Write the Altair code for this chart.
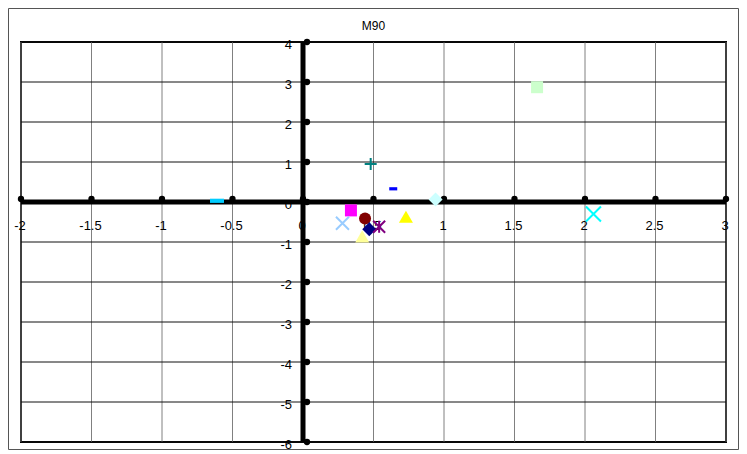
import altair as alt
import pandas as pd

# ---- axis ticks / labels ----
x_ticks = [-2, -1.5, -1, -0.5, 0, 0.5, 1, 1.5, 2, 2.5, 3]
x_tick_labels = ["-2", "-1.5", "-1", "-0.5", "0", "0.5", "1", "1.5", "2", "2.5", "3"]
y_ticks = [4, 3, 2, 1, 0, -1, -2, -3, -4, -5, -6]
y_tick_labels = ["4", "3", "2", "1", "0", "-1", "-2", "-3", "-4", "-5", "-6"]
chart_title = "M90"

# ---- data points (one marker per series) ----
pt_x = [0.48, 0.64, 0.94, 0.34, 0.28, 0.44, 0.73, 0.47, 0.54, 0.42, -0.61, 1.66, 2.06]
pt_y = [0.95, 0.33, 0.06, -0.21, -0.53, -0.41, -0.37, -0.68, -0.62, -0.86, 0.03, 2.87, -0.30]
pt_color = ["#008080", "#0000FF", "#CCFFFF", "#FF00FF", "#99CCFF", "#800000", "#FFFF00",
            "#000080", "#800080", "#FFFF99", "#00CCFF", "#CCFFCC", "#00FFFF"]
PLUS = "M-1,0L1,0M0,-1L0,1"
CROSS = "M-1,-1L1,1M-1,1L1,-1"
STAR = "M-1,-1L1,1M-1,1L1,-1M0,-1L0,1"
DASH = "M-1,-0.4L1,-0.4L1,0.4L-1,0.4Z"
DASH2 = "M-1,-0.3L1,-0.3L1,0.3L-1,0.3Z"
pt_shape = [PLUS, DASH, "diamond", "square", CROSS, "circle", "triangle-up",
            "diamond", STAR, "triangle-up", DASH2, "square", CROSS]
pt_size = [144, 64, 196, 144, 169, 144, 196, 196, 144, 196, 196, 144, 225]
pt_filled = [False, True, True, True, False, True, True,
             True, False, True, True, True, False]

pts = pd.DataFrame({"x": pt_x, "y": pt_y, "color": pt_color, "shape": pt_shape,
                    "size": pt_size, "filled": pt_filled})
xl = pd.DataFrame({"v": x_ticks, "label": x_tick_labels, "zero": 0})
yl = pd.DataFrame({"v": y_ticks, "label": y_tick_labels, "zero": 0})

FONT = "Liberation Sans"
xs = alt.Scale(domain=[-2, 3], nice=False, zero=False)
ys = alt.Scale(domain=[-6, 4], nice=False, zero=False)

# grid lines
xgrid = alt.Chart(xl).mark_rule(color="#808080", strokeWidth=1).encode(
    x=alt.X("v:Q", scale=xs, axis=None))
ygrid = alt.Chart(yl).mark_rule(color="#111111", strokeWidth=1).encode(
    y=alt.Y("v:Q", scale=ys, axis=None))

# thick axes through zero
vline = alt.Chart(pd.DataFrame({"v": [0]})).mark_rule(
    color="black", strokeWidth=5).encode(x=alt.X("v:Q", scale=xs, axis=None))
hline = alt.Chart(pd.DataFrame({"v": [0]})).mark_rule(
    color="black", strokeWidth=5).encode(y=alt.Y("v:Q", scale=ys, axis=None))

xdots = alt.Chart(xl).mark_circle(color="black", size=40, opacity=1, yOffset=-3).encode(
    x=alt.X("v:Q", scale=xs, axis=None), y=alt.Y("zero:Q", scale=ys, axis=None))
ydots = alt.Chart(yl).mark_circle(color="black", size=40, opacity=1, xOffset=4).encode(
    x=alt.X("zero:Q", scale=xs, axis=None), y=alt.Y("v:Q", scale=ys, axis=None))

xtext = alt.Chart(xl).mark_text(font=FONT, fontSize=13, color="black", dy=24, dx=-1,
                                baseline="middle", align="center").encode(
    x=alt.X("v:Q", scale=xs, axis=None), y=alt.Y("zero:Q", scale=ys, axis=None),
    text="label:N")
ytext = alt.Chart(yl).mark_text(font=FONT, fontSize=13, color="black", dx=-11, dy=3,
                                baseline="middle", align="right").encode(
    x=alt.X("zero:Q", scale=xs, axis=None), y=alt.Y("v:Q", scale=ys, axis=None),
    text="label:N")

filled_pts = alt.Chart(pts).transform_filter("datum.filled").mark_point(
    filled=True, opacity=1, strokeWidth=0).encode(
    x=alt.X("x:Q", scale=xs, axis=None), y=alt.Y("y:Q", scale=ys, axis=None),
    color=alt.Color("color:N", scale=None),
    shape=alt.Shape("shape:N", scale=None),
    size=alt.Size("size:Q", scale=None))
stroked_pts = alt.Chart(pts).transform_filter("!datum.filled").mark_point(
    filled=False, opacity=1, strokeWidth=2).encode(
    x=alt.X("x:Q", scale=xs, axis=None), y=alt.Y("y:Q", scale=ys, axis=None),
    color=alt.Color("color:N", scale=None),
    shape=alt.Shape("shape:N", scale=None),
    size=alt.Size("size:Q", scale=None))

title = alt.Chart(pd.DataFrame({"t": [chart_title]})).mark_text(
    font=FONT, fontSize=12, color="black", align="center", baseline="middle").encode(
    x=alt.value(352.5), y=alt.value(-16), text="t:N")

frame = alt.Chart(pd.DataFrame({"a": [0]})).mark_rect(
    filled=False, stroke="#555555", strokeWidth=1).encode(
    x=alt.value(-12.5), x2=alt.value(717.5), y=alt.value(-33.5), y2=alt.value(407.5))

chart = alt.layer(
    xgrid, ygrid, vline, hline, xtext, ytext, xdots, ydots,
    filled_pts, stroked_pts, title, frame
).properties(
    width=705, height=400,
    autosize=alt.AutoSizeParams(type="none"),
    padding={"left": 13, "top": 34, "right": 13, "bottom": 12},
).configure_view(stroke="black", strokeWidth=2)

chart.save("out.html", embed_options={"renderer": "svg", "actions": False})
